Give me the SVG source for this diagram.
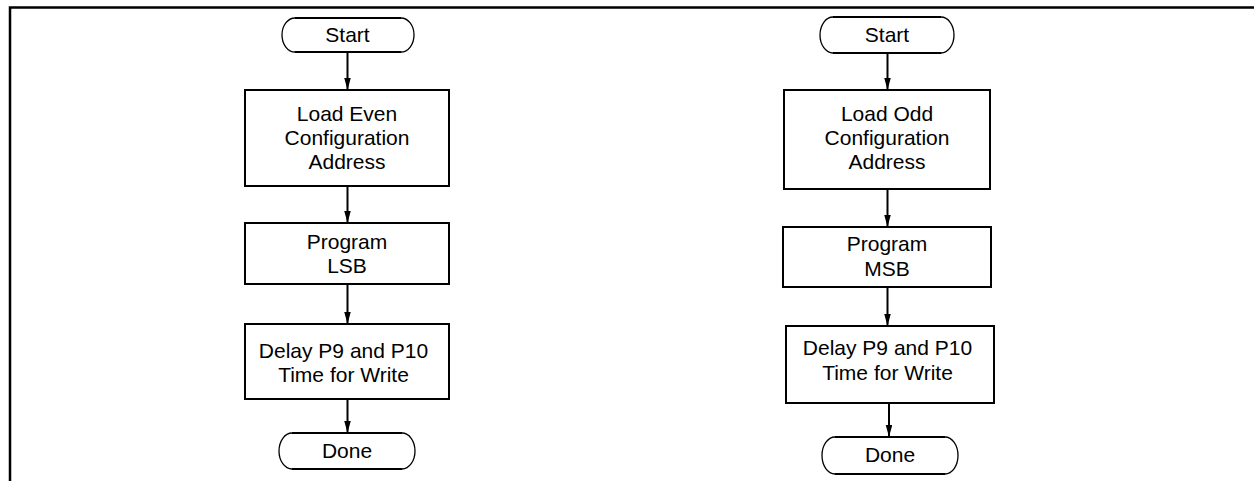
<svg xmlns="http://www.w3.org/2000/svg" width="1254" height="481" viewBox="0 0 1254 481">
<defs>
<style>
.box{fill:#fff;stroke:#000;stroke-width:2}
.term{fill:#fff;stroke:#000;stroke-width:1.3}
.flat{stroke:#000;stroke-width:2;fill:none}
.t{font-family:"Liberation Sans",Arial,sans-serif;font-size:21px;fill:#000;text-anchor:middle}
.c{stroke:#000;stroke-width:2;fill:none;marker-end:url(#ah)}
.frame{stroke:#000;stroke-width:2.5;fill:none}
</style>
<marker id="ah" markerUnits="userSpaceOnUse" markerWidth="12" markerHeight="7" refX="12" refY="3.25" orient="auto">
<path d="M0,0 L12,3.25 L0,6.5 Z" fill="#000"/>
</marker>
</defs>
<rect width="1254" height="481" fill="#fff"/>
<path class="frame" d="M10,481 V7.5 H1254"/>
<g id="connectors">
<line class="c" x1="347.5" y1="52" x2="347.5" y2="90"/>
<line class="c" x1="347.5" y1="186" x2="347.5" y2="223"/>
<line class="c" x1="347.5" y1="284" x2="347.5" y2="324"/>
<line class="c" x1="347.5" y1="399" x2="347.5" y2="433"/>
<line class="c" x1="887.5" y1="53" x2="887.5" y2="90"/>
<line class="c" x1="887.5" y1="189" x2="887.5" y2="227"/>
<line class="c" x1="887.5" y1="287" x2="887.5" y2="326"/>
<line class="c" x1="889" y1="403" x2="889" y2="437"/>
</g>
<g id="start-even">
<path class="term" d="M295,18 H401 A13 17 0 0 1 401,52 H295 A13 17 0 0 1 295,18 Z"/>
<path class="flat" d="M295,18 H401 M295,52 H401"/>
<text class="t" x="347.5" y="42">Start</text>
</g>
<g id="load-even">
<rect class="box" x="245" y="90" width="204" height="96"/>
<text class="t" x="347" y="121">Load Even</text>
<text class="t" x="347" y="145">Configuration</text>
<text class="t" x="347" y="169">Address</text>
</g>
<g id="program-lsb">
<rect class="box" x="245" y="223" width="204" height="61"/>
<text class="t" x="347" y="249">Program</text>
<text class="t" x="347" y="273">LSB</text>
</g>
<g id="delay-even">
<rect class="box" x="245" y="324" width="204" height="75"/>
<text class="t" x="343.5" y="358">Delay P9 and P10</text>
<text class="t" x="343.5" y="382">Time for Write</text>
</g>
<g id="done-even">
<path class="term" d="M292,433 H402 A13 18 0 0 1 402,469 H292 A13 18 0 0 1 292,433 Z"/>
<path class="flat" d="M292,433 H402 M292,469 H402"/>
<text class="t" x="347" y="458">Done</text>
</g>
<g id="start-odd">
<path class="term" d="M833,17 H941 A13 18 0 0 1 941,53 H833 A13 18 0 0 1 833,17 Z"/>
<path class="flat" d="M833,17 H941 M833,53 H941"/>
<text class="t" x="887" y="42">Start</text>
</g>
<g id="load-odd">
<rect class="box" x="784" y="90" width="206" height="99"/>
<text class="t" x="887" y="121">Load Odd</text>
<text class="t" x="887" y="145">Configuration</text>
<text class="t" x="887" y="169">Address</text>
</g>
<g id="program-msb">
<rect class="box" x="783" y="227" width="208" height="60"/>
<text class="t" x="887" y="251">Program</text>
<text class="t" x="887" y="276">MSB</text>
</g>
<g id="delay-odd">
<rect class="box" x="786" y="326" width="208" height="77"/>
<text class="t" x="887.5" y="355">Delay P9 and P10</text>
<text class="t" x="887.5" y="380">Time for Write</text>
</g>
<g id="done-odd">
<path class="term" d="M835,437 H945 A13 18.5 0 0 1 945,474 H835 A13 18.5 0 0 1 835,437 Z"/>
<path class="flat" d="M835,437 H945 M835,474 H945"/>
<text class="t" x="890" y="462">Done</text>
</g>
</svg>
